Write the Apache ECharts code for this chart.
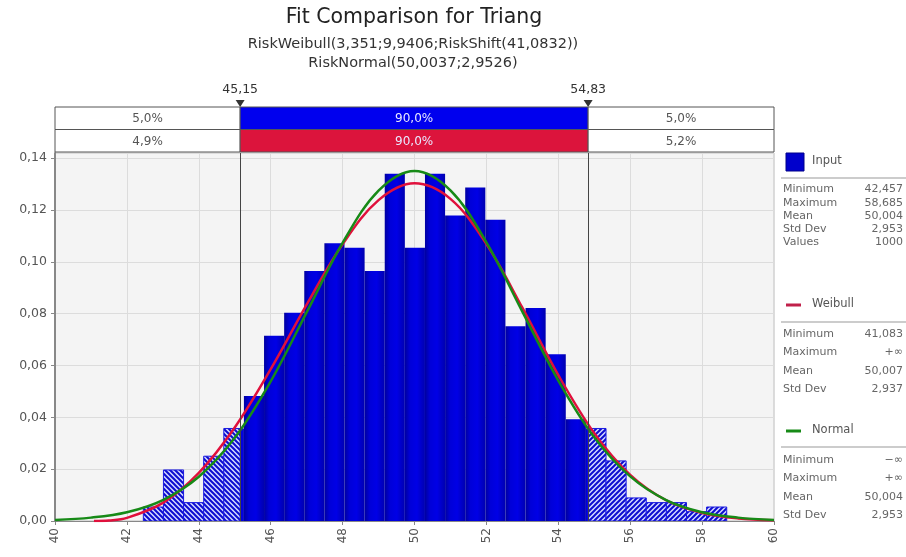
<!DOCTYPE html>
<html><head><meta charset="utf-8">
<script src="https://cdn.jsdelivr.net/npm/echarts@6/dist/echarts.min.js"></script>
<style>html,body{margin:0;padding:0;background:#fff}#c{width:906px;height:557px}</style>
</head><body><div id="c"></div>
<script>
// ---- data ----
const xMin = 40, xMax = 60, xStep = 2;
const yMax = 0.142, yStep = 0.02;
const binMin = 42.457, binMax = 58.685, binCount = 29;
const densities = [0.0054, 0.0197, 0.0071, 0.0250, 0.0357, 0.0482, 0.0715, 0.0804, 0.0965, 0.1072,
                   0.1054, 0.0965, 0.1340, 0.1054, 0.1340, 0.1179, 0.1287, 0.1162, 0.0751, 0.0822,
                   0.0643, 0.0393, 0.0357, 0.0232, 0.0089, 0.0071, 0.0071, 0.0036, 0.0054];
const delimiters = [45.15, 54.83];
const delimLabels = ['45,15', '54,83'];
const inputPct = ['5,0%', '90,0%', '5,0%'];
const fitPct = ['4,9%', '90,0%', '5,2%'];
const weibullX = [41.083, 41.5, 42, 43, 44, 45, 46, 47, 48, 49, 50, 51, 52, 53, 54, 55, 56, 57, 58, 59, 60];
const weibullY = [0, 0.0002, 0.0012, 0.0070, 0.0186, 0.0361, 0.0586, 0.0835, 0.1068, 0.1238, 0.1303,
                  0.1243, 0.1069, 0.0823, 0.0563, 0.0339, 0.0178, 0.0080, 0.0031, 0.0010, 0.0003];
const normalX = [40, 41, 42, 43, 44, 45, 46, 47, 48, 49, 50, 51, 52, 53, 54, 55, 56, 57, 58, 59, 60];
const normalY = [0.0004, 0.0013, 0.0034, 0.0081, 0.0171, 0.0321, 0.0539, 0.0805, 0.1073, 0.1275, 0.1351,
                 0.1276, 0.1075, 0.0808, 0.0542, 0.0323, 0.0172, 0.0081, 0.0034, 0.0013, 0.0004];
const titleText = 'Fit Comparison for Triang';
const subLines = ['RiskWeibull(3,351;9,9406;RiskShift(41,0832))', 'RiskNormal(50,0037;2,9526)'];
const inputStats = [['Minimum', '42,457'], ['Maximum', '58,685'], ['Mean', '50,004'], ['Std Dev', '2,953'], ['Values', '1000']];
const weibullStats = [['Minimum', '41,083'], ['Maximum', '+\u221e'], ['Mean', '50,007'], ['Std Dev', '2,937']];
const normalStats = [['Minimum', '\u2212\u221e'], ['Maximum', '+\u221e'], ['Mean', '50,004'], ['Std Dev', '2,953']];

// ---- styling ----
const FONT = '"DejaVu Sans", Verdana, sans-serif';
const BLUE = '#0000ee', RED = '#dc143c', GREEN = '#178a17', WEIB = '#e0103c';

function makeHatch(dir) {
  const c = document.createElement('canvas');
  c.width = 5; c.height = 5;
  const g = c.getContext('2d');
  g.fillStyle = '#d4d9ff'; g.fillRect(0, 0, 5, 5);
  g.strokeStyle = '#0c0cd0'; g.lineWidth = 2;
  g.beginPath();
  if (dir === 'L') {
    g.moveTo(-1, -1); g.lineTo(6, 6); g.moveTo(-1, 4); g.lineTo(1, 6); g.moveTo(4, -1); g.lineTo(6, 1);
  } else {
    g.moveTo(-1, 6); g.lineTo(6, -1); g.moveTo(-1, 1); g.lineTo(1, -1); g.moveTo(4, 6); g.lineTo(6, 4);
  }
  g.stroke();
  return { image: c, repeat: 'repeat' };
}
const hatchL = makeHatch('L'), hatchR = makeHatch('R');
const solidFill = new echarts.graphic.LinearGradient(0, 0, 1, 0, [
  { offset: 0, color: '#0000a0' }, { offset: 0.25, color: '#0000d8' },
  { offset: 0.6, color: '#0000e6' }, { offset: 1, color: '#0000b0' }]);

const binW = (binMax - binMin) / binCount;
const histData = densities.map((d, i) => [binMin + i * binW, binMin + (i + 1) * binW, d]);

const bounds = [xMin, delimiters[0], delimiters[1], xMax];
const bandData = [];
[inputPct, fitPct].forEach((row, r) => {
  row.forEach((lab, c) => bandData.push([bounds[c], bounds[c + 1], r, lab, c]));
});

const fmtY = v => v.toFixed(2).replace('.', ',');

function renderHist(params, api) {
  const x0 = api.value(0), x1 = api.value(1), v = api.value(2);
  const lo = delimiters[0], hi = delimiters[1];
  const children = [];
  const seg = (a, b, kind) => {
    if (b <= a) return;
    const p0 = api.coord([a, v]), p1 = api.coord([b, 0]);
    const shape = { x: p0[0], y: p0[1], width: p1[0] - p0[0], height: p1[1] - p0[1] };
    if (kind === 'S') children.push({ type: 'rect', shape, style: { fill: solidFill } });
    else children.push({ type: 'rect', shape, style: { fill: kind === 'L' ? hatchL : hatchR, stroke: '#1a1ae0', lineWidth: 1 } });
  };
  seg(x0, Math.min(x1, lo), 'L');
  seg(Math.max(x0, lo), Math.min(x1, hi), 'S');
  seg(Math.max(x0, hi), x1, 'R');
  return { type: 'group', children };
}

function renderBand(params, api) {
  const a = api.value(0), b = api.value(1), r = api.value(2), c = api.value(4);
  const lab = bandData[params.dataIndex][3];
  const p0 = api.coord([a, r]), p1 = api.coord([b, r + 1]);
  const mid = c === 1;
  const fill = mid ? (r === 0 ? BLUE : RED) : '#ffffff';
  return {
    type: 'group', children: [
      { type: 'rect', shape: { x: p0[0], y: p0[1], width: p1[0] - p0[0], height: p1[1] - p0[1] },
        style: { fill, stroke: '#555', lineWidth: 1 } },
      { type: 'text', style: { text: lab, x: (p0[0] + p1[0]) / 2, y: (p0[1] + p1[1]) / 2 + 1,
        align: 'center', verticalAlign: 'middle', fill: mid ? '#e8e8ff' : '#555', font: '12px ' + FONT } }
    ]
  };
}

function renderDelim(params, api) {
  const x = api.value(0);
  const p = api.coord([x, 0]);
  return {
    type: 'group', children: [
      { type: 'polygon', shape: { points: [[p[0] - 4.5, p[1] - 7], [p[0] + 4.5, p[1] - 7], [p[0], p[1]]] },
        style: { fill: '#333' } },
      { type: 'text', style: { text: delimLabels[params.dataIndex], x: p[0], y: p[1] - 17,
        align: 'center', verticalAlign: 'middle', fill: '#333', font: '12.5px ' + FONT } }
    ]
  };
}

// legend panel (text)
const legendEls = [];
const LX = 783, RX = 903;
function statRows(rows, ys) {
  rows.forEach((r, i) => {
    legendEls.push({ type: 'text', left: LX, top: ys[i] - 7, style: { text: r[0], fill: '#666', font: '11px ' + FONT } });
    legendEls.push({ type: 'text', right: 906 - RX, top: ys[i] - 7, style: { text: r[1], fill: '#666', font: '11px ' + FONT, align: 'right' } });
  });
}
function divider(y) {
  legendEls.push({ type: 'line', shape: { x1: 781, y1: y, x2: 906, y2: y }, style: { stroke: '#999', lineWidth: 1 } });
}
legendEls.push({ type: 'rect', shape: { x: 786, y: 153, width: 18, height: 18 }, style: { fill: '#0000cc', stroke: '#00008a', lineWidth: 1 } });
legendEls.push({ type: 'text', left: 812, top: 155, style: { text: 'Input', fill: '#555', font: '11.5px ' + FONT } });
divider(178);
statRows(inputStats, [191, 205, 218, 231, 244]);
legendEls.push({ type: 'line', shape: { x1: 786, y1: 305, x2: 801, y2: 305 }, style: { stroke: '#c0204a', lineWidth: 3 } });
legendEls.push({ type: 'text', left: 812, top: 298, style: { text: 'Weibull', fill: '#555', font: '11.5px ' + FONT } });
divider(322);
statRows(weibullStats, [336, 354, 373, 391]);
legendEls.push({ type: 'line', shape: { x1: 786, y1: 431, x2: 801, y2: 431 }, style: { stroke: GREEN, lineWidth: 3 } });
legendEls.push({ type: 'text', left: 812, top: 424, style: { text: 'Normal', fill: '#555', font: '11.5px ' + FONT } });
divider(447);
statRows(normalStats, [462, 480, 499, 517]);

// titles
legendEls.push({ type: 'text', x: 414, y: 18, style: { text: titleText, fill: '#222', font: '20.5px ' + FONT, align: 'center', verticalAlign: 'middle' } });
legendEls.push({ type: 'text', x: 413, y: 44, style: { text: subLines[0], fill: '#333', font: '14.5px ' + FONT, align: 'center', verticalAlign: 'middle' } });
legendEls.push({ type: 'text', x: 413, y: 63, style: { text: subLines[1], fill: '#333', font: '14.5px ' + FONT, align: 'center', verticalAlign: 'middle' } });

const chart = echarts.init(document.getElementById('c'), null, { renderer: 'canvas' });
chart.setOption({
  animation: false,
  backgroundColor: '#ffffff',
  textStyle: { fontFamily: FONT },
  grid: [
    { left: 55, right: 132, top: 153, bottom: 36, show: true, backgroundColor: '#f4f4f4', borderColor: '#c0c0c0', borderWidth: 1 },
    { left: 55, right: 132, top: 107, height: 45, show: false }
  ],
  xAxis: [
    { type: 'value', gridIndex: 0, min: xMin, max: xMax, interval: xStep,
      axisLine: { show: true, lineStyle: { color: '#888', width: 1 } },
      axisTick: { show: true, length: 4, lineStyle: { color: '#888' } },
      axisLabel: { rotate: 90, color: '#555', fontSize: 12, margin: 7, fontFamily: FONT },
      splitLine: { show: true, lineStyle: { color: '#dcdcdc', width: 1 } } },
    { type: 'value', gridIndex: 1, min: xMin, max: xMax, show: false }
  ],
  yAxis: [
    { type: 'value', gridIndex: 0, min: 0, max: yMax, interval: yStep,
      axisLine: { show: true, lineStyle: { color: '#888', width: 2 } },
      axisTick: { show: true, length: 4, lineStyle: { color: '#888' } },
      axisLabel: { color: '#555', fontSize: 12.5, margin: 8, formatter: fmtY, showMaxLabel: false, fontFamily: FONT },
      splitLine: { show: true, lineStyle: { color: '#dcdcdc', width: 1 } } },
    { type: 'value', gridIndex: 1, min: 0, max: 2, inverse: true, show: false }
  ],
  series: [
    { type: 'custom', xAxisIndex: 0, yAxisIndex: 0, renderItem: renderHist, data: histData,
      encode: { x: [0, 1], y: 2 }, clip: true, z: 2,
      markLine: { silent: true, symbol: 'none', label: { show: false },
        lineStyle: { color: '#444', width: 1, type: 'solid' },
        data: delimiters.map(d => ({ xAxis: d })) } },
    { type: 'line', xAxisIndex: 0, yAxisIndex: 0, data: weibullX.map((x, i) => [x, weibullY[i]]),
      smooth: 0.35, showSymbol: false, lineStyle: { color: WEIB, width: 2.5 }, z: 3 },
    { type: 'line', xAxisIndex: 0, yAxisIndex: 0, data: normalX.map((x, i) => [x, normalY[i]]),
      smooth: 0.35, showSymbol: false, lineStyle: { color: GREEN, width: 2.5 }, z: 4 },
    { type: 'custom', xAxisIndex: 1, yAxisIndex: 1, renderItem: renderBand, data: bandData,
      encode: { x: [0, 1], y: 2 }, clip: false, z: 5 },
    { type: 'custom', xAxisIndex: 1, yAxisIndex: 1, renderItem: renderDelim, data: delimiters.map(d => [d]),
      encode: { x: 0 }, clip: false, z: 6 }
  ],
  graphic: legendEls
});
</script></body></html>
